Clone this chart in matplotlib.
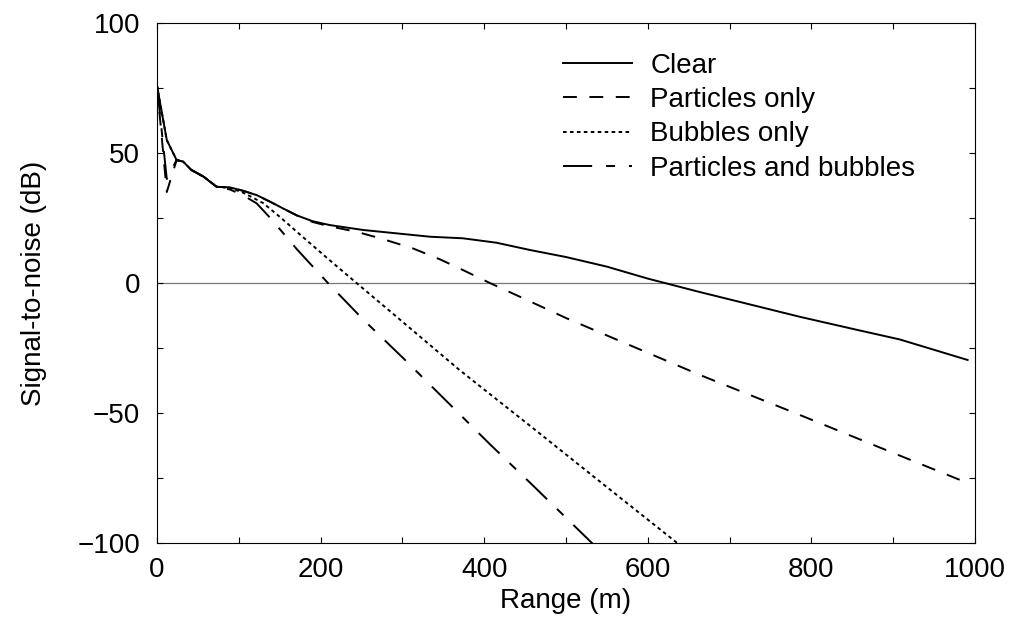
import numpy as np
import matplotlib
matplotlib.use("Agg")
import matplotlib.pyplot as plt
from matplotlib.ticker import MultipleLocator

plt.rcParams['font.family'] = ['Liberation Sans', 'DejaVu Sans']
plt.rcParams['lines.scale_dashes'] = False

# ------------------------------
# Data
# ------------------------------
clear_x = [0, 12, 24, 32, 42, 57, 73, 89, 105, 122, 140, 154, 171, 190, 211, 252,
           293, 334, 374, 415, 456, 500, 550, 600, 664, 700, 786, 850, 908, 991]
clear_y = [76, 55, 47.3, 46.7, 43.5, 40.9, 37, 36.8, 35.5, 33.8, 31, 28.7, 26, 23.8, 22.3, 20.4,
           19.1, 17.8, 17.2, 15.5, 12.7, 10.0, 6.3, 1.7, -3.5, -6.3, -13, -17.6, -21.7, -29.6]

part_x = [0, 12, 24, 32, 42, 57, 73, 89, 105, 122, 140, 154, 171, 190, 211, 244,
          273, 313, 346, 374, 407, 448, 501, 560, 664, 780, 880, 990]
part_y = [76, 35, 47.3, 46.7, 43.5, 40.9, 37, 36.8, 35.5, 33.8, 31, 28.7, 26, 23.5, 21.8, 19.7,
          17.2, 13.3, 9.1, 5, 0, -5.9, -13.6, -21.5, -35.4, -50, -62.8, -76.8]

bub_x = [0, 12, 24, 32, 42, 57, 73, 89, 105, 115, 130, 150, 171, 211, 244, 293,
         370, 460, 550, 640]
bub_y = [76, 55, 47.3, 46.7, 43.5, 40.9, 37, 36.6, 34.8, 33.2, 30.7, 25.5, 19.7, 8.8, 0, -13,
         -33.5, -55.9, -78.5, -101]

pb_x = [0, 12, 24, 32, 42, 57, 73, 89, 105, 122, 140, 171, 209, 252, 303, 407, 460, 535]
pb_y = [76, 40, 47.3, 46.7, 43.5, 40.9, 37, 36, 33.8, 30.6, 24.5, 13, 0, -14, -29.5, -62, -78, -101]

labels = ['Clear', 'Particles only', 'Bubbles only', 'Particles and bubbles']

# ------------------------------
# Plot
# ------------------------------
fig = plt.figure(figsize=(10.14, 6.24), dpi=100)
ax = fig.add_axes([0.1548, 0.1298, 0.8067, 0.8333])

ax.axhline(0, color='#777777', lw=0.9, zorder=1)

lw = 1.4
ax.plot(clear_x, clear_y, color='black', lw=lw, label=labels[0])
ax.plot(part_x, part_y, color='black', lw=lw, dashes=(10, 9), label=labels[1])
ax.plot(bub_x, bub_y, color='black', lw=lw, dashes=(2.6, 2.4), label=labels[2])
ax.plot(pb_x, pb_y, color='black', lw=lw, dashes=(21, 10, 6.5, 10), label=labels[3])

ax.set_xlim(0, 1000)
ax.set_ylim(-100, 100)
ax.xaxis.set_major_locator(MultipleLocator(200))
ax.xaxis.set_minor_locator(MultipleLocator(100))
ax.yaxis.set_minor_locator(MultipleLocator(25))
ax.set_yticks([-100, -50, 0, 50, 100])
ax.set_yticklabels(['\u2212100', '\u221250', '0', '50', '100'])
ax.tick_params(which='both', direction='in', top=True, right=True, length=4.5, width=0.8)
ax.tick_params(axis='x', which='major', labelsize=20, pad=10)
ax.tick_params(axis='y', which='major', labelsize=20, pad=12)

ax.set_xlabel('Range (m)', fontsize=20, labelpad=4)
ax.set_ylabel('Signal-to-noise (dB)', fontsize=20, labelpad=22)

ax.legend(loc='upper left', bbox_to_anchor=(0.496, 0.943), frameon=False, fontsize=20,
          handlelength=2.5, handletextpad=0.65, labelspacing=0.3,
          borderpad=0, borderaxespad=0)

fig.savefig('out.png', dpi=100)
